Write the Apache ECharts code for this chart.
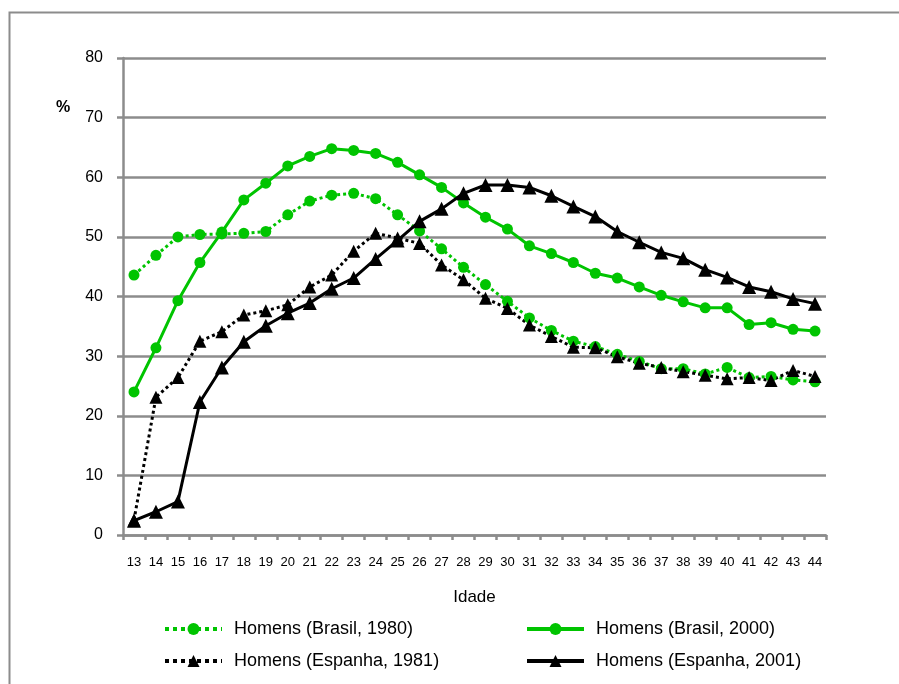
<!DOCTYPE html>
<html>
<head>
<meta charset="utf-8">
<script src="https://cdn.jsdelivr.net/npm/echarts@6/dist/echarts.min.js"></script>
<style>html,body{margin:0;padding:0;background:#fff}#c{width:899px;height:684px}</style>
</head>
<body>
<div id="c"></div>
<script>
var ages = ['13','14','15','16','17','18','19','20','21','22','23','24','25','26','27','28','29','30','31','32','33','34','35','36','37','38','39','40','41','42','43','44'];
var brasil1980 = [43.6,46.9,50.0,50.4,50.5,50.6,50.9,53.7,56.0,57.0,57.3,56.4,53.7,51.0,48.0,44.9,42.0,39.2,36.4,34.3,32.5,31.6,30.3,29.1,27.9,27.9,27.0,28.1,26.4,26.6,26.0,25.7];
var brasil2000 = [24.0,31.4,39.3,45.7,50.8,56.2,59.0,61.9,63.5,64.8,64.5,64.0,62.5,60.4,58.3,55.7,53.3,51.3,48.5,47.2,45.7,43.9,43.1,41.6,40.2,39.1,38.1,38.1,35.3,35.6,34.5,34.2];
var espanha1981 = [2.5,23.1,26.4,32.5,34.1,36.9,37.6,38.6,41.6,43.6,47.6,50.6,49.8,48.9,45.3,42.8,39.7,38.0,35.2,33.3,31.5,31.4,29.9,28.8,28.1,27.4,26.8,26.2,26.4,25.9,27.6,26.6];
var espanha2001 = [2.4,3.9,5.6,22.3,28.1,32.4,35.1,37.2,38.9,41.3,43.1,46.3,49.4,52.6,54.7,57.3,58.7,58.7,58.3,56.9,55.1,53.4,50.9,49.1,47.4,46.4,44.5,43.2,41.6,40.8,39.6,38.8];
var yTicks = [0,10,20,30,40,50,60,70,80];

var green = '#00C400';
var gray = '#8c8c8c';
var chart = echarts.init(document.getElementById('c'));
function ser(name, data, color, type, sym, size){
  return {name:name, type:'line', data:data, symbol:sym, symbolSize:size,
    lineStyle:{color:color, width:3, type:type}, itemStyle:{color:color},
    animation:false, z: 3};
}
function leg(name, type){
  return {name:name, lineStyle:{width:4, type:type}};
}
var legText = {fontSize:18, color:'#000', padding:[0,0,0,7], fontFamily:'Liberation Sans, Arial'};
chart.setOption({
  animation:false,
  backgroundColor:'#fff',
  textStyle:{fontFamily:'Liberation Sans, Arial, sans-serif'},
  graphic:[
    {type:'rect', shape:{x:9.5,y:12.5,width:900,height:700}, style:{fill:'none', stroke:gray, lineWidth:2}, z:-1},
    {type:'text', left:56, top:100, style:{text:'%', font:'bold 16px Liberation Sans, Arial', fill:'#000'}}
  ],
  grid:{left:123, right:73, top:58, bottom:149},
  xAxis:{type:'category', data:ages, boundaryGap:true,
    name:'Idade', nameLocation:'middle', nameGap:54,
    nameTextStyle:{fontSize:17, color:'#000', fontFamily:'Liberation Sans, Arial'},
    axisLine:{lineStyle:{color:gray, width:2.5}},
    axisTick:{show:true, interval:0, length:5, lineStyle:{color:gray, width:2.5}},
    axisLabel:{interval:0, fontSize:13, color:'#000', margin:21, fontFamily:'Liberation Sans Narrow, Liberation Sans, Arial'}},
  yAxis:{type:'value', min:0, max:80, interval:10,
    axisLine:{show:true, lineStyle:{color:gray, width:2.5}},
    axisTick:{show:true, length:6, lineStyle:{color:gray, width:2.5}},
    splitLine:{lineStyle:{color:gray, width:2.5}},
    axisLabel:{fontSize:16, color:'#000', margin:20,
      formatter:function(v){return yTicks.indexOf(v)>=0 ? String(v) : '';}}},
  legend:[
    {orient:'vertical', left:163, top:620, padding:0, itemWidth:57, itemHeight:15, itemGap:14,
      textStyle:legText,
      data:[leg('Homens (Brasil, 1980)','dotted'), leg('Homens (Espanha, 1981)','dotted')]},
    {orient:'vertical', left:525, top:620, padding:0, itemWidth:57, itemHeight:15, itemGap:14,
      textStyle:legText,
      data:[leg('Homens (Brasil, 2000)','solid'), leg('Homens (Espanha, 2001)','solid')]}
  ],
  series:[
    ser('Homens (Brasil, 1980)', brasil1980, green, 'dotted', 'circle', 11),
    ser('Homens (Brasil, 2000)', brasil2000, green, 'solid', 'circle', 11),
    ser('Homens (Espanha, 1981)', espanha1981, '#000', 'dotted', 'triangle', 13),
    ser('Homens (Espanha, 2001)', espanha2001, '#000', 'solid', 'triangle', 14)
  ]
});
</script>
</body>
</html>
